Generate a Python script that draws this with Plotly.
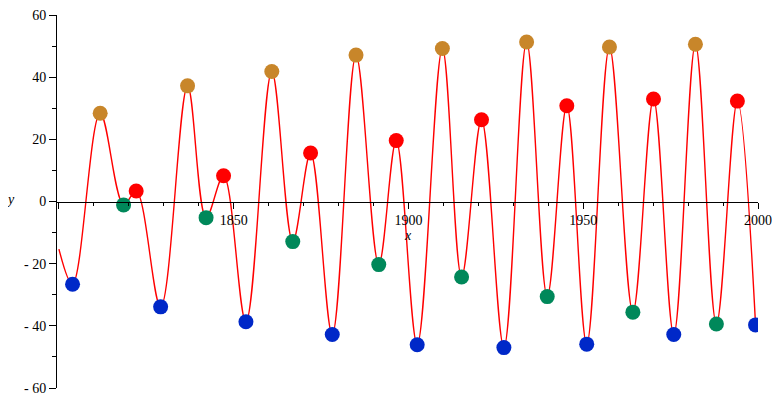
import plotly.graph_objects as go

# Data
start_x = [1800.0]
start_y = [-15.3]

gold_x = [1811.8, 1836.8, 1860.9, 1885.0, 1909.7, 1933.8, 1957.5, 1982.1]
gold_y = [28.4, 37.2, 41.8, 47.1, 49.2, 51.3, 49.7, 50.6]

red_x = [1822.1, 1847.1, 1872.0, 1896.5, 1920.9, 1945.3, 1970.1, 1994.1]
red_y = [3.4, 8.3, 15.6, 19.6, 26.3, 30.8, 33.0, 32.3]

green_x = [1818.5, 1842.1, 1866.9, 1891.5, 1915.2, 1939.7, 1964.2, 1988.1]
green_y = [-1.1, -5.2, -12.9, -20.3, -24.3, -30.6, -35.6, -39.4]

blue_x = [1803.9, 1829.1, 1853.5, 1878.2, 1902.5, 1927.3, 1951.0, 1975.9, 1999.3]
blue_y = [-26.6, -33.9, -38.7, -42.8, -46.1, -47.0, -45.9, -42.8, -39.7]

x_tickvals = [1800, 1850, 1900, 1950, 2000]
x_ticktext = ["", "1850", "1900", "1950", "2000"]
y_tickvals = [-60, -40, -20, 0, 20, 40, 60]
y_ticktext = ["- 60", "- 40", "- 20", "0", "20", "40", "60"]

# curve through all the extrema, ordered by x
pts = sorted(zip(start_x + gold_x + red_x + green_x + blue_x,
                 start_y + gold_y + red_y + green_y + blue_y))
curve_x = [p[0] for p in pts]
curve_y = [p[1] for p in pts]

fig = go.Figure()
fig.add_trace(go.Scatter(x=curve_x, y=curve_y, mode="lines",
                         line=dict(color="#ff0000", width=1.4, shape="spline", smoothing=1.0),
                         hoverinfo="skip"))
for xs, ys, col in [(gold_x, gold_y, "#c8862a"), (red_x, red_y, "#ff0000"),
                    (green_x, green_y, "#00885a"), (blue_x, blue_y, "#0028c8")]:
    fig.add_trace(go.Scatter(x=xs, y=ys, mode="markers",
                             marker=dict(color=col, size=15, line=dict(width=0))))

font = dict(family="Liberation Serif", size=14, color="black")

fig.update_layout(
    width=772, height=394, autosize=False,
    margin=dict(l=49, r=22, t=7, b=14, autoexpand=False),
    paper_bgcolor="white", plot_bgcolor="white",
    showlegend=False, font=font,
    xaxis=dict(range=[1799.45, 2000], anchor="free", position=0.5,
               automargin=False, ticklabeloverflow="allow",
               showline=True, linecolor="black", linewidth=1,
               showgrid=False, zeroline=False,
               tickmode="array", tickvals=x_tickvals, ticktext=x_ticktext,
               ticks="outside", ticklen=6, tickcolor="black", tickwidth=1,
               minor=dict(tickmode="linear", tick0=1800, dtick=10, ticks="outside",
                          ticklen=3, tickcolor="black", tickwidth=1),
               tickfont=font),
    yaxis=dict(range=[-60, 60], automargin=False, ticklabeloverflow="allow",
               showline=True, linecolor="black", linewidth=1,
               showgrid=False, zeroline=False,
               tickmode="array", tickvals=y_tickvals, ticktext=y_ticktext,
               ticks="outside", ticklen=7, tickcolor="black", tickwidth=1,
               minor=dict(tickmode="linear", tick0=-60, dtick=10, ticks="outside",
                          ticklen=4, tickcolor="black", tickwidth=1),
               tickfont=font),
    annotations=[
        dict(text="<i>y</i>", xref="paper", yref="y", x=-0.067, y=0.5,
             showarrow=False, font=font, xanchor="center", yanchor="middle"),
        dict(text="<i>x</i>", xref="x", yref="y", x=1900, y=-11.0,
             showarrow=False, font=font, xanchor="center", yanchor="middle"),
    ],
)

fig.write_html("out.html")
